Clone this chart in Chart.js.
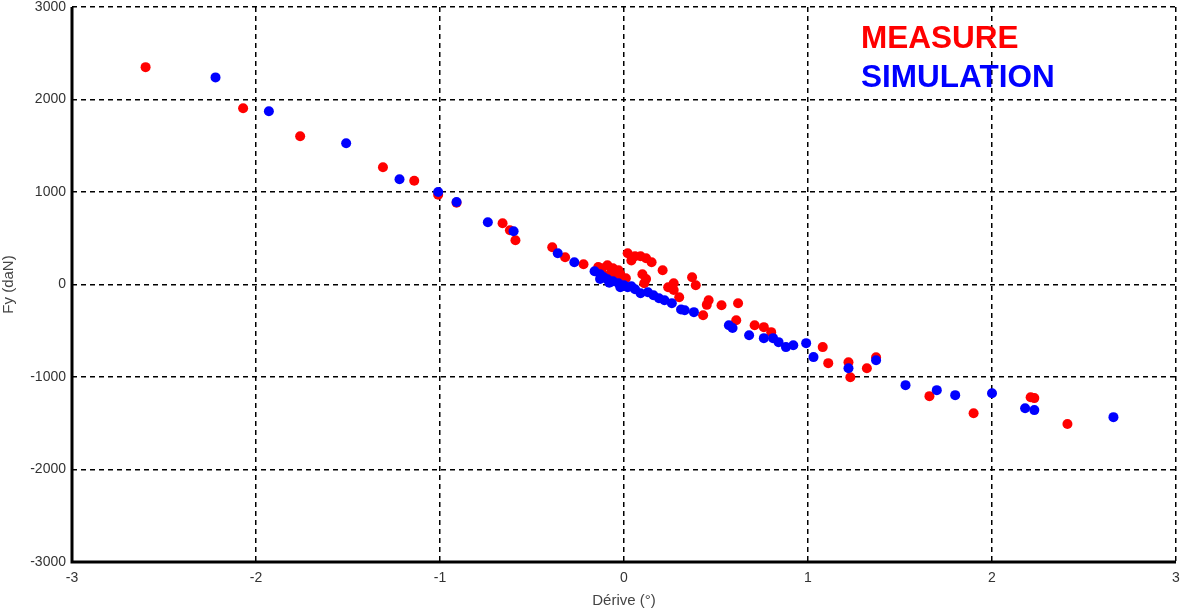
<!DOCTYPE html>
<html>
<head>
<meta charset="utf-8">
<title>Fy vs Dérive</title>
<script src="https://cdn.jsdelivr.net/npm/chart.js@4/dist/chart.umd.min.js"></script>
<style>
    html, body { margin: 0; padding: 0; background: #fff; }
    #wrap { position: relative; width: 1181px; height: 610px; }
</style>
</head>
<body>
<div id="wrap"><canvas id="fyChart"></canvas></div>
<script>
// ── Data ─────────────────────────────────────────────────────────────────
const measureX = [-2.60, -2.07, -1.76, -1.31, -1.14, -1.01, -0.91, -0.66, -0.62, -0.59,
    -0.39, -0.32, -0.22, -0.14, -0.12, -0.09, -0.06, -0.03, -0.11, -0.04,
    0.01, -0.07, 0.02, 0.06, 0.09, 0.12, 0.15, 0.21, 0.11, 0.12,
    0.24, 0.27, 0.30, 0.37, 0.39, 0.43, 0.46, 0.53, 0.62, 0.61,
    0.71, 0.76, 0.80, 1.08, 1.11, 1.22, 1.23, 1.32, 1.37, 1.66,
    1.90, 2.21, 2.23, 2.41, -0.08, -0.02, 0.04, 0.10, 0.27, 0.45];
const measureY = [2350, 1905, 1603, 1268, 1122, 970, 884, 663, 587, 479,
    403, 295, 219, 190, 176, 209, 176, 155, 100, 90,
    68, 130, 338, 306, 306, 284, 241, 155, 14, 60,
    -29, 14, -137, 79, -8, -332, -170, -224, -202, -386,
    -440, -461, -515, -677, -850, -840, -1002, -905, -786, -1207,
    -1391, -1218, -1228, -1509, 60, 110, 260, 110, -60, -220];

const simulationX = [-2.22, -1.93, -1.51, -1.22, -1.01, -0.91, -0.74, -0.60, -0.36, -0.27,
    -0.16, -0.13, -0.11, -0.09, -0.06, -0.03, 0.00, 0.02, 0.06, 0.09,
    0.13, 0.16, 0.19, 0.22, 0.26, 0.33, 0.38, 0.57, 0.68, 0.76,
    0.81, 0.84, 0.88, 0.92, 0.99, 1.03, 1.22, 1.37, 1.53, 1.70,
    1.80, 2.00, 2.18, 2.23, 2.66, -0.13, -0.08, -0.02, 0.04, 0.31,
    0.59];
const simulationY = [2239, 1873, 1527, 1138, 1000, 892, 673, 576, 338, 241,
    144, 111, 79, 57, 36, 14, -8, -29, -51, -94,
    -83, -116, -148, -170, -202, -278, -299, -440, -548, -580,
    -580, -623, -677, -656, -634, -785, -905, -818, -1088, -1142,
    -1196, -1175, -1337, -1358, -1434, 60, 20, -30, -20, -270,
    -470];

const xTicks = [-3, -2, -1, 0, 1, 2, 3];
const yTicks = [-3000, -2000, -1000, 0, 1000, 2000, 3000];

const toPoints = (xs, ys) => xs.map((x, i) => ({ x, y: ys[i] }));

// ── Plugins ──────────────────────────────────────────────────────────────
// legend is plain coloured words, no markers
const legendText = {
    id: 'legendText',
    afterDraw(chart) {
        const c = chart.ctx;
        c.save();
        c.font = 'bold 31.5px "Liberation Sans", Arial, sans-serif';
        c.textAlign = 'left';
        c.textBaseline = 'alphabetic';
        c.fillStyle = '#ff0000';
        c.fillText('MEASURE', 861, 48);
        c.fillStyle = '#0000ff';
        c.fillText('SIMULATION', 861, 87);
        c.restore();
    }
};

// solid left/bottom axis lines over the dashed grid
const solidAxes = {
    id: 'solidAxes',
    afterDatasetsDraw(chart) {
        const { left, right, bottom, top } = chart.chartArea;
        const c = chart.ctx;
        c.save();
        c.setLineDash([]);
        c.strokeStyle = '#000';
        c.lineWidth = 3;
        c.beginPath();
        c.moveTo(left, top);
        c.lineTo(left, bottom);
        c.lineTo(right, bottom);
        c.stroke();
        c.restore();
    }
};

const tickFont = { family: '"Liberation Sans", Arial, sans-serif', size: 14 };
const titleFont = { family: '"Liberation Sans", Arial, sans-serif', size: 15 };

function fixSize(prop, val) {
    return scale => {
        scale[prop] = val;
        scale.paddingTop = 0;
        scale.paddingBottom = 0;
        scale.paddingLeft = 0;
        scale.paddingRight = 0;
    };
}

new Chart(document.getElementById('fyChart'), {
    type: 'scatter',
    data: {
        datasets: [
            {
                label: 'SIMULATION',
                data: toPoints(simulationX, simulationY),
                backgroundColor: '#0000ff',
                borderWidth: 0,
                pointRadius: 5,
                order: 0
            },
            {
                label: 'MEASURE',
                data: toPoints(measureX, measureY),
                backgroundColor: '#ff0000',
                borderWidth: 0,
                pointRadius: 5,
                order: 1
            }
        ]
    },
    options: {
        responsive: true,
        maintainAspectRatio: false,
        animation: false,
        layout: { padding: { top: 7, right: 4, left: 0, bottom: 0 } },
        plugins: { legend: { display: false }, tooltip: { enabled: false } },
        scales: {
            x: {
                type: 'linear',
                min: -3, max: 3,
                afterBuildTicks: s => { s.ticks = xTicks.map(v => ({ value: v })); },
                afterFit: fixSize('height', 48),
                grid: { color: '#000', lineWidth: 1.5, drawTicks: false },
                border: { display: false, dash: [5, 4] },
                ticks: { font: tickFont, color: '#333', padding: 8, callback: v => String(v) },
                title: { display: true, text: 'Dérive (°)', font: titleFont, color: '#444', padding: { top: 0, bottom: 0 } }
            },
            y: {
                type: 'linear',
                min: -3000, max: 3000,
                afterBuildTicks: s => { s.ticks = yTicks.map(v => ({ value: v })); },
                afterFit: fixSize('width', 72),
                grid: { color: '#000', lineWidth: 1.5, drawTicks: false },
                border: { display: false, dash: [5, 4] },
                ticks: { font: tickFont, color: '#333', padding: 6, callback: v => String(v) },
                title: { display: true, text: 'Fy (daN)', font: titleFont, color: '#444', padding: { top: 0, bottom: 2 } }
            }
        }
    },
    plugins: [legendText, solidAxes]
});
</script>
</body>
</html>
